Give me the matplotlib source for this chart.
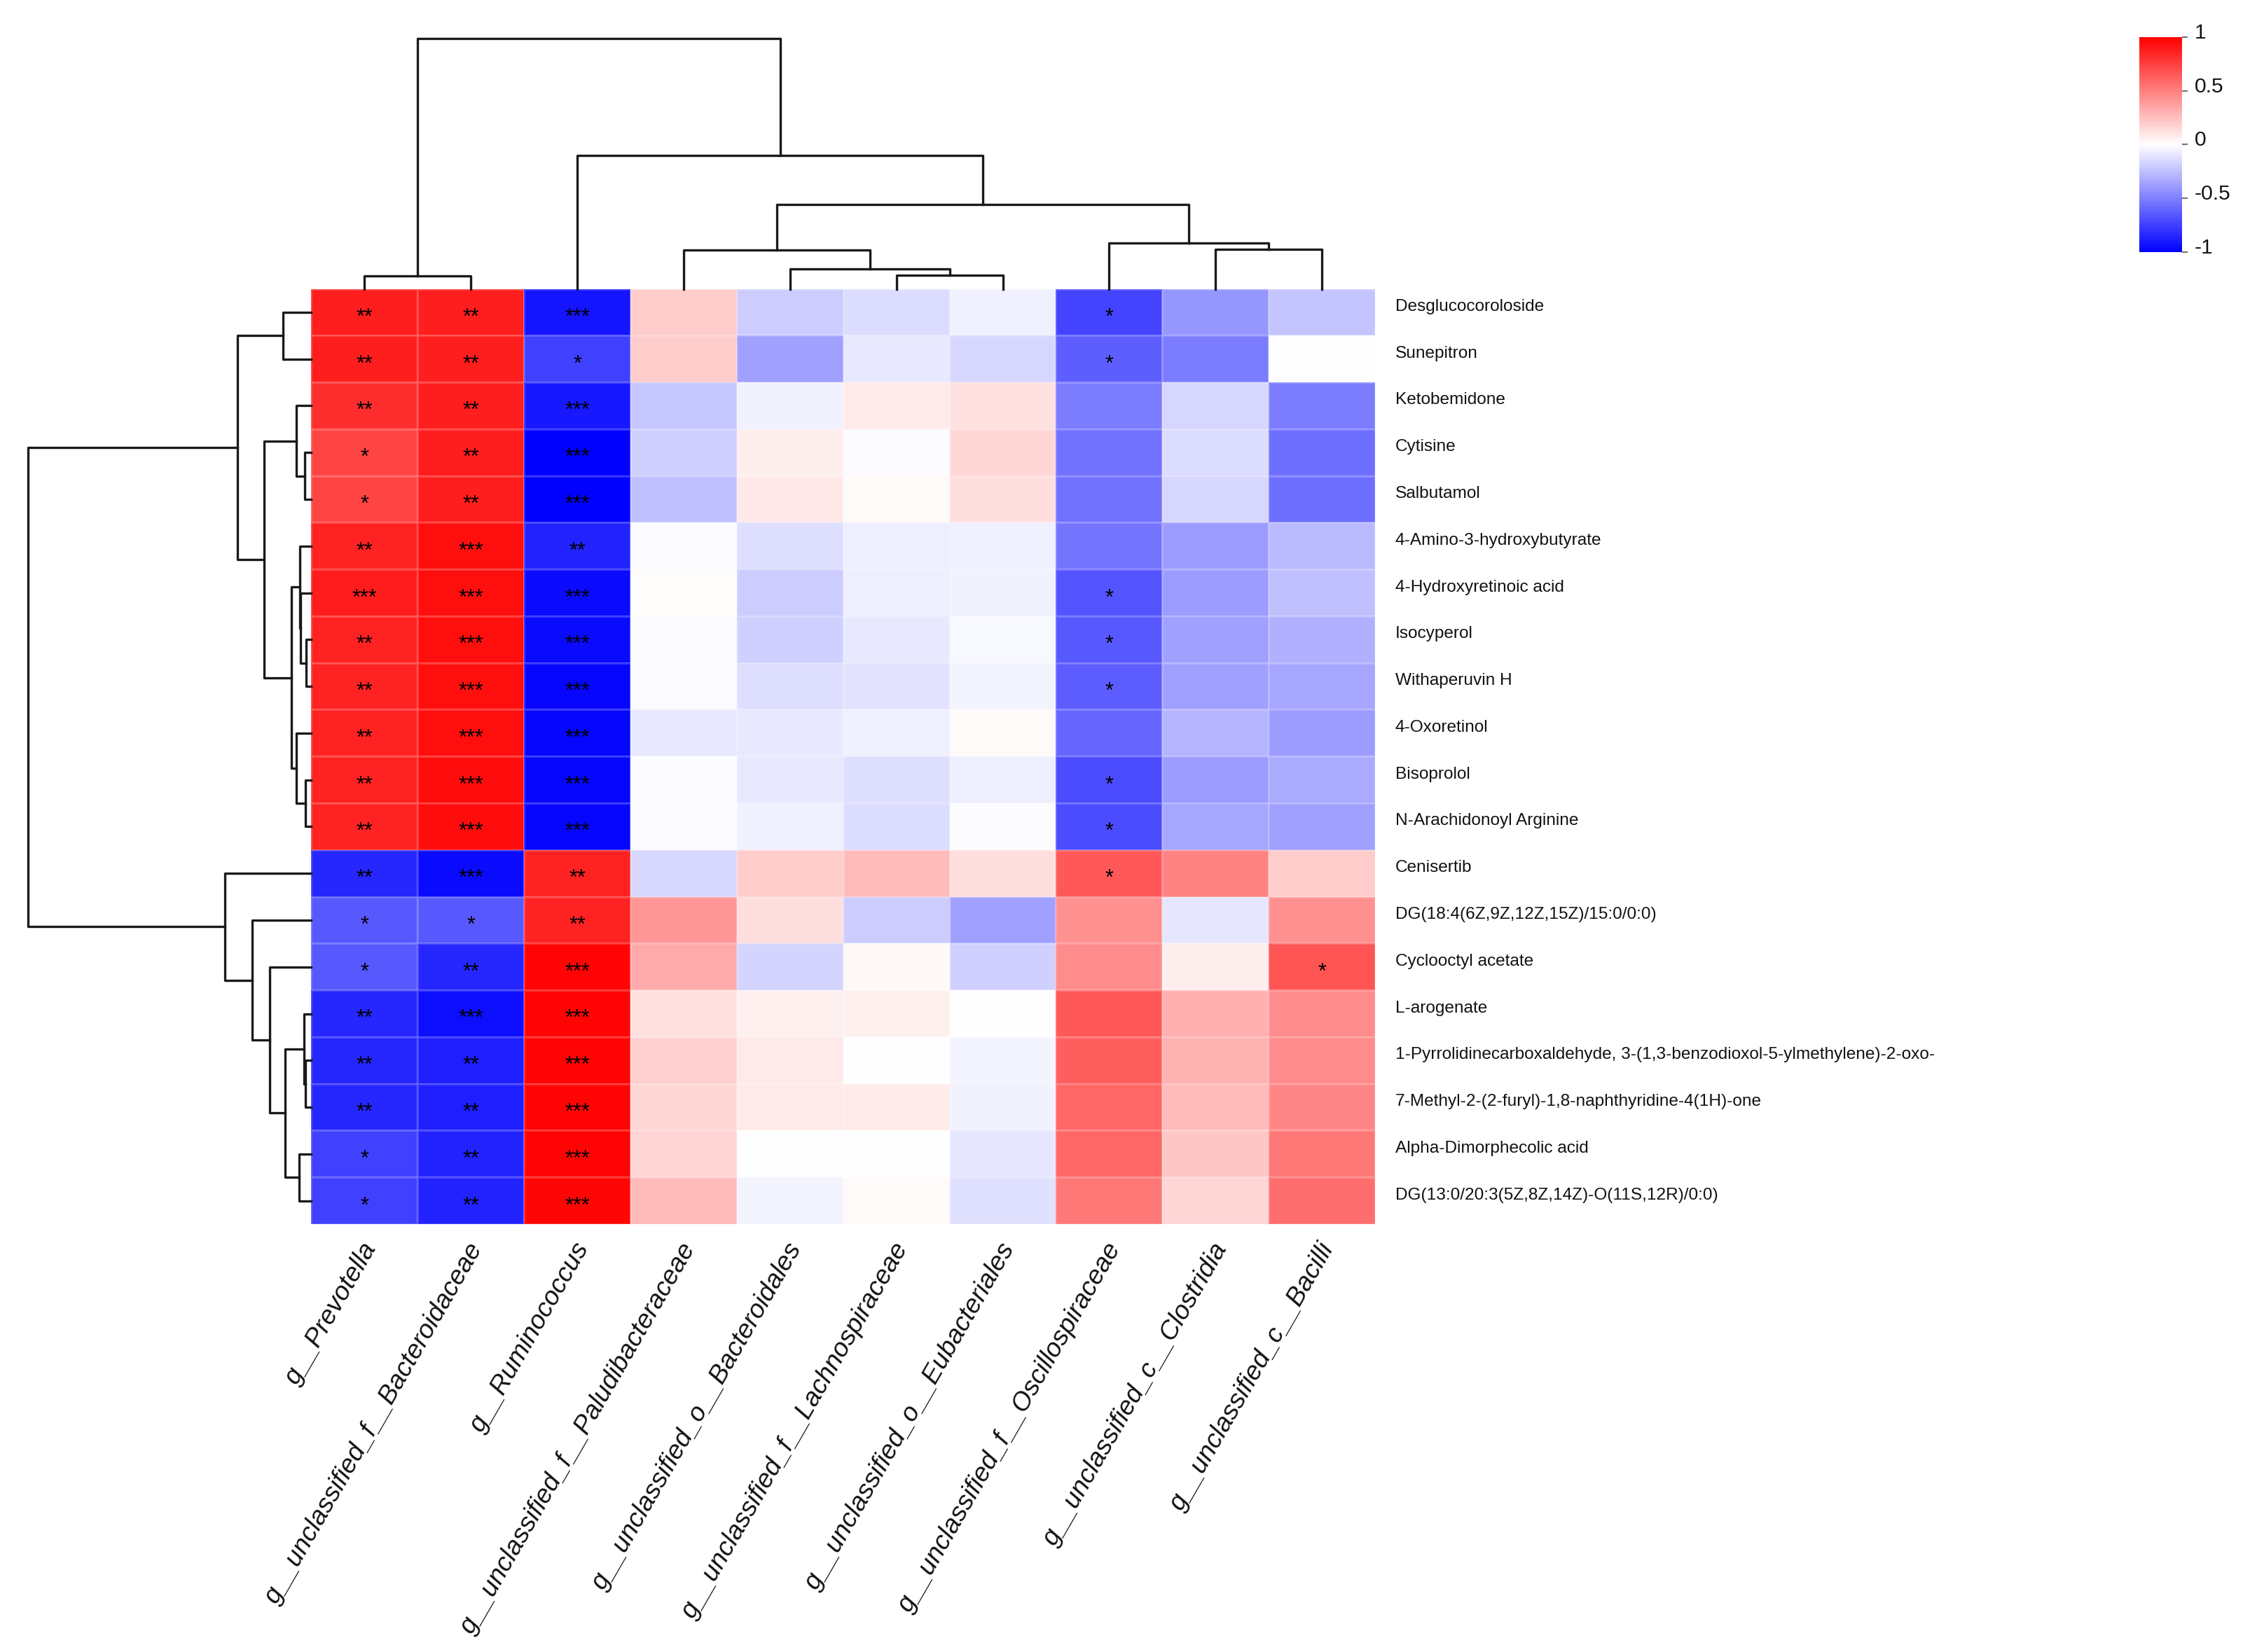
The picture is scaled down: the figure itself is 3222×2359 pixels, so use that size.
import numpy as np
import matplotlib
matplotlib.use("Agg")
import matplotlib.pyplot as plt
from matplotlib.colors import LinearSegmentedColormap, Normalize
from matplotlib.cm import ScalarMappable
import matplotlib.transforms as mtransforms

plt.rcParams['font.family'] = ['Liberation Sans', 'DejaVu Sans']

# ---------------- data ----------------
metabolites = [
    "Desglucocoroloside", "Sunepitron", "Ketobemidone", "Cytisine", "Salbutamol",
    "4-Amino-3-hydroxybutyrate", "4-Hydroxyretinoic acid", "Isocyperol", "Withaperuvin H",
    "4-Oxoretinol", "Bisoprolol", "N-Arachidonoyl Arginine", "Cenisertib",
    "DG(18:4(6Z,9Z,12Z,15Z)/15:0/0:0)", "Cyclooctyl acetate", "L-arogenate",
    "1-Pyrrolidinecarboxaldehyde, 3-(1,3-benzodioxol-5-ylmethylene)-2-oxo-",
    "7-Methyl-2-(2-furyl)-1,8-naphthyridine-4(1H)-one", "Alpha-Dimorphecolic acid",
    "DG(13:0/20:3(5Z,8Z,14Z)-O(11S,12R)/0:0)",
]

taxa = [
    "g__Prevotella", "g__unclassified_f__Bacteroidaceae", "g__Ruminococcus",
    "g__unclassified_f__Paludibacteraceae", "g__unclassified_o__Bacteroidales",
    "g__unclassified_f__Lachnospiraceae", "g__unclassified_o__Eubacteriales",
    "g__unclassified_f__Oscillospiraceae", "g__unclassified_c__Clostridia",
    "g__unclassified_c__Bacilli",
]

# correlation per taxon (rows in metabolite order above)
r_prevotella = [0.88, 0.88, 0.82, 0.73, 0.73, 0.86, 0.89, 0.86, 0.86, 0.86, 0.86, 0.86,
                -0.85, -0.65, -0.65, -0.85, -0.85, -0.85, -0.75, -0.75]
r_bacteroidaceae = [0.88, 0.88, 0.88, 0.88, 0.88, 0.94, 0.94, 0.94, 0.94, 0.94, 0.95, 0.95,
                    -0.96, -0.65, -0.85, -0.94, -0.88, -0.88, -0.86, -0.86]
r_ruminococcus = [-0.92, -0.75, -0.90, -1.00, -1.00, -0.86, -0.96, -0.96, -0.97, -0.97, -0.97, -0.97,
                  0.86, 0.86, 0.98, 0.98, 0.98, 0.98, 0.98, 0.97]
r_paludibacteraceae = [0.20, 0.20, -0.22, -0.18, -0.25, -0.02, 0.01, -0.02, -0.02, -0.09, -0.01, -0.01,
                       -0.15, 0.41, 0.33, 0.12, 0.18, 0.16, 0.17, 0.27]
r_bacteroidales = [-0.20, -0.37, -0.05, 0.07, 0.09, -0.13, -0.20, -0.18, -0.13, -0.09, -0.09, -0.06,
                   0.20, 0.13, -0.17, 0.06, 0.08, 0.08, 0.00, -0.04]
r_lachnospiraceae = [-0.14, -0.09, 0.08, -0.02, 0.02, -0.07, -0.07, -0.09, -0.11, -0.06, -0.13, -0.14,
                     0.27, -0.20, 0.03, 0.06, 0.00, 0.08, 0.00, 0.02]
r_eubacteriales = [-0.06, -0.16, 0.12, 0.16, 0.13, -0.06, -0.05, -0.03, -0.04, 0.02, -0.07, -0.01,
                   0.13, -0.37, -0.18, 0.00, -0.04, -0.05, -0.10, -0.12]
r_oscillospiraceae = [-0.73, -0.63, -0.51, -0.55, -0.55, -0.54, -0.67, -0.65, -0.64, -0.60, -0.70, -0.70,
                      0.65, 0.43, 0.45, 0.65, 0.63, 0.60, 0.60, 0.53]
r_clostridia = [-0.41, -0.51, -0.16, -0.14, -0.16, -0.39, -0.39, -0.37, -0.37, -0.29, -0.39, -0.35,
                0.49, -0.10, 0.07, 0.31, 0.30, 0.27, 0.22, 0.16]
r_bacilli = [-0.23, 0.00, -0.51, -0.57, -0.57, -0.27, -0.25, -0.31, -0.35, -0.39, -0.33, -0.37,
             0.20, 0.43, 0.67, 0.45, 0.45, 0.47, 0.53, 0.57]

# significance marks per taxon
s_prevotella = ["**", "**", "**", "*", "*", "**", "***", "**", "**", "**", "**", "**",
                "**", "*", "*", "**", "**", "**", "*", "*"]
s_bacteroidaceae = ["**", "**", "**", "**", "**", "***", "***", "***", "***", "***", "***", "***",
                    "***", "*", "**", "***", "**", "**", "**", "**"]
s_ruminococcus = ["***", "*", "***", "***", "***", "**", "***", "***", "***", "***", "***", "***",
                  "**", "**", "***", "***", "***", "***", "***", "***"]
s_none = [""] * 20
s_oscillospiraceae = ["*", "*", "", "", "", "", "*", "*", "*", "", "*", "*",
                      "*", "", "", "", "", "", "", ""]
s_bacilli = ["", "", "", "", "", "", "", "", "", "", "", "",
             "", "", "*", "", "", "", "", ""]

# hierarchical clustering structure: (left, right, height); leaves are 0..n-1 in display order
row_linkage = [
    (3, 4, 9.0), (7, 8, 7.6), (10, 11, 8.3), (6, 21, 15.0), (5, 23, 16.6),
    (2, 20, 21.0), (9, 22, 21.6), (24, 26, 28.0), (0, 1, 40.0), (25, 27, 67.0),
    (28, 29, 105.0), (16, 17, 8.0), (15, 31, 10.5), (18, 19, 17.7), (32, 33, 37.0),
    (14, 34, 59.3), (13, 35, 84.3), (12, 36, 123.3), (30, 37, 405.0),
]
col_linkage = [
    (0, 1, 18.5), (5, 6, 19.5), (4, 11, 28.5), (3, 12, 55.5), (8, 9, 56.5),
    (7, 14, 65.5), (13, 15, 120.5), (2, 16, 190.5), (10, 17, 357.5),
]

cbar_ticks = [-1, -0.5, 0, 0.5, 1]
cbar_labels = ["-1", "-0.5", "0", "0.5", "1"]

# ---------------- assemble ----------------
corr = np.column_stack([r_prevotella, r_bacteroidaceae, r_ruminococcus, r_paludibacteraceae,
                        r_bacteroidales, r_lachnospiraceae, r_eubacteriales, r_oscillospiraceae,
                        r_clostridia, r_bacilli])
stars = np.column_stack([s_prevotella, s_bacteroidaceae, s_ruminococcus, s_none, s_none,
                         s_none, s_none, s_oscillospiraceae, s_none, s_bacilli])
n_rows, n_cols = corr.shape

W, H = 3223, 2359
DPI = 200
fig = plt.figure(figsize=(W / DPI, H / DPI), dpi=DPI)


def fx(px):
    return px / W


def fy(py):
    return 1 - py / H


hm_l, hm_r, hm_t, hm_b = 444.5, 1963.0, 412.5, 1748.0
ax = fig.add_axes([fx(hm_l), fy(hm_b), fx(hm_r - hm_l), fy(hm_t) - fy(hm_b)])

cmap = LinearSegmentedColormap.from_list("bwr_r", ["#0000FF", "#FFFFFF", "#FF0000"])
norm = Normalize(vmin=-1, vmax=1)
ax.pcolormesh(np.arange(n_cols + 1), np.arange(n_rows + 1), corr, cmap=cmap, norm=norm,
              edgecolors=(1, 1, 1, 0.18), linewidth=0.5)
ax.set_xlim(0, n_cols)
ax.set_ylim(n_rows, 0)
ax.set_axis_off()

row_px = (hm_b - hm_t) / n_rows
col_px = (hm_r - hm_l) / n_cols
star_fs = 11.0
star_off = 0.52 * star_fs * DPI / 72 / row_px
for i in range(n_rows):
    for j in range(n_cols):
        if stars[i, j]:
            ax.text(j + 0.5, i + 0.5 + star_off, stars[i, j], ha="center", va="baseline",
                    fontsize=star_fs, color="black")

# row labels
for i, name in enumerate(metabolites):
    ax.text(n_cols + 29 / col_px, i + 0.5 - 8 / row_px, name, ha="left", va="center",
            fontsize=8.8, color="#111111", clip_on=False)

# column labels
for j, name in enumerate(taxa):
    ax.text(j + 0.5 + 0.06, n_rows + 29 / row_px, name, ha="right", va="center",
            rotation=60, rotation_mode="anchor", fontsize=13.4, style="italic",
            color="#111111", clip_on=False)


def dendro_segments(linkage, n_leaves):
    pos = {i: i + 0.5 for i in range(n_leaves)}
    hgt = {i: 0.0 for i in range(n_leaves)}
    segs = []
    for k, (a, b, h) in enumerate(linkage):
        cid = n_leaves + k
        segs.append(([pos[a], pos[a], pos[b], pos[b]], [hgt[a], h, h, hgt[b]]))
        pos[cid] = (pos[a] + pos[b]) / 2
        hgt[cid] = h
    return segs


lc = "#1a1a1a"
lw = 1.2

# column dendrogram (top)
root_col = col_linkage[-1][2]
top_y = hm_t - root_col
axc = fig.add_axes([fx(hm_l), fy(hm_t), fx(hm_r - hm_l), fy(top_y) - fy(hm_t)])
for xs, hs in dendro_segments(col_linkage, n_cols):
    axc.plot(xs, hs, color=lc, lw=lw, solid_capstyle="projecting", clip_on=False)
axc.set_xlim(0, n_cols)
axc.set_ylim(0, root_col)
axc.set_axis_off()

# row dendrogram (left)
root_row = row_linkage[-1][2]
left_x = hm_l - root_row
axr = fig.add_axes([fx(left_x), fy(hm_b), fx(hm_l - left_x), fy(hm_t) - fy(hm_b)])
for ys, hs in dendro_segments(row_linkage, n_rows):
    axr.plot(hs, ys, color=lc, lw=lw, solid_capstyle="projecting", clip_on=False)
axr.set_ylim(n_rows, 0)
axr.set_xlim(root_row, 0)
axr.set_axis_off()

# colorbar
cb_l, cb_r, cb_t, cb_b = 3054, 3115, 52.7, 360.0
cax = fig.add_axes([fx(cb_l), fy(cb_b), fx(cb_r - cb_l), fy(cb_t) - fy(cb_b)])
cb = fig.colorbar(ScalarMappable(norm=norm, cmap=cmap), cax=cax, ticks=cbar_ticks)
cb.outline.set_visible(False)
cax.set_yticklabels(cbar_labels)
cax.tick_params(axis="y", length=2.9, width=0.8, color="#777777", pad=3.6,
                labelsize=10.8, labelcolor="#111111")
offset = mtransforms.ScaledTranslation(0, 9 / DPI, fig.dpi_scale_trans)
for lab in cax.get_yticklabels():
    lab.set_transform(lab.get_transform() + offset)

fig.savefig("out.png", dpi=DPI, facecolor="white")
